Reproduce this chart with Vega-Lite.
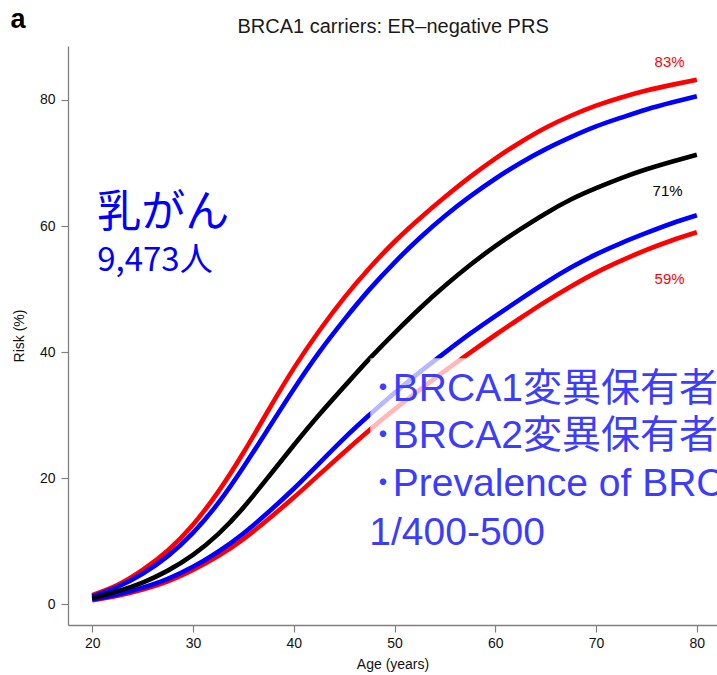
{
  "$schema": "https://vega.github.io/schema/vega-lite/v6.json",
  "width": 649,
  "height": 579,
  "autosize": {"type": "none"},
  "padding": {"left": 68, "top": 46, "right": 0, "bottom": 50},
  "background": "white",
  "config": {
    "view": {"stroke": null},
    "font": "Liberation Sans",
    "axis": {
      "domainColor": "#808080",
      "domainWidth": 1.3,
      "tickColor": "#808080",
      "tickWidth": 1.2,
      "tickSize": 7,
      "labelFontSize": 14,
      "labelColor": "#111111",
      "titleFontSize": 14,
      "titleFontWeight": "normal",
      "titleColor": "#111111",
      "grid": false
    }
  },
  "datasets": {
    "curves": [
      {"curve": "a_red_hi", "age": 20, "risk": 1.4},
      {"curve": "a_red_hi", "age": 22.5, "risk": 3.0},
      {"curve": "a_red_hi", "age": 25, "risk": 5.4},
      {"curve": "a_red_hi", "age": 27.5, "risk": 8.5},
      {"curve": "a_red_hi", "age": 30, "risk": 12.6},
      {"curve": "a_red_hi", "age": 32.5, "risk": 17.8},
      {"curve": "a_red_hi", "age": 35, "risk": 24.0},
      {"curve": "a_red_hi", "age": 37.5, "risk": 30.8},
      {"curve": "a_red_hi", "age": 40, "risk": 37.4},
      {"curve": "a_red_hi", "age": 42.5, "risk": 43.3},
      {"curve": "a_red_hi", "age": 45, "risk": 48.6},
      {"curve": "a_red_hi", "age": 47.5, "risk": 53.3},
      {"curve": "a_red_hi", "age": 50, "risk": 57.5},
      {"curve": "a_red_hi", "age": 52.5, "risk": 61.2},
      {"curve": "a_red_hi", "age": 55, "risk": 64.6},
      {"curve": "a_red_hi", "age": 57.5, "risk": 67.8},
      {"curve": "a_red_hi", "age": 60, "risk": 70.7},
      {"curve": "a_red_hi", "age": 62.5, "risk": 73.3},
      {"curve": "a_red_hi", "age": 65, "risk": 75.6},
      {"curve": "a_red_hi", "age": 67.5, "risk": 77.5},
      {"curve": "a_red_hi", "age": 70, "risk": 79.1},
      {"curve": "a_red_hi", "age": 72.5, "risk": 80.4},
      {"curve": "a_red_hi", "age": 75, "risk": 81.5},
      {"curve": "a_red_hi", "age": 77.5, "risk": 82.4},
      {"curve": "a_red_hi", "age": 80, "risk": 83.2},
      {"curve": "b_red_lo", "age": 20, "risk": 0.6},
      {"curve": "b_red_lo", "age": 22.5, "risk": 1.3},
      {"curve": "b_red_lo", "age": 25, "risk": 2.3},
      {"curve": "b_red_lo", "age": 27.5, "risk": 3.6},
      {"curve": "b_red_lo", "age": 30, "risk": 5.4},
      {"curve": "b_red_lo", "age": 32.5, "risk": 7.6},
      {"curve": "b_red_lo", "age": 35, "risk": 10.3},
      {"curve": "b_red_lo", "age": 37.5, "risk": 13.5},
      {"curve": "b_red_lo", "age": 40, "risk": 16.9},
      {"curve": "b_red_lo", "age": 42.5, "risk": 20.5},
      {"curve": "b_red_lo", "age": 45, "risk": 24.1},
      {"curve": "b_red_lo", "age": 47.5, "risk": 27.6},
      {"curve": "b_red_lo", "age": 50, "risk": 30.9},
      {"curve": "b_red_lo", "age": 52.5, "risk": 34.0},
      {"curve": "b_red_lo", "age": 55, "risk": 37.0},
      {"curve": "b_red_lo", "age": 57.5, "risk": 39.9},
      {"curve": "b_red_lo", "age": 60, "risk": 42.7},
      {"curve": "b_red_lo", "age": 62.5, "risk": 45.4},
      {"curve": "b_red_lo", "age": 65, "risk": 48.0},
      {"curve": "b_red_lo", "age": 67.5, "risk": 50.4},
      {"curve": "b_red_lo", "age": 70, "risk": 52.6},
      {"curve": "b_red_lo", "age": 72.5, "risk": 54.5},
      {"curve": "b_red_lo", "age": 75, "risk": 56.2},
      {"curve": "b_red_lo", "age": 77.5, "risk": 57.7},
      {"curve": "b_red_lo", "age": 80, "risk": 59.0},
      {"curve": "c_blue_hi", "age": 20, "risk": 1.2},
      {"curve": "c_blue_hi", "age": 22.5, "risk": 2.7},
      {"curve": "c_blue_hi", "age": 25, "risk": 4.8},
      {"curve": "c_blue_hi", "age": 27.5, "risk": 7.6},
      {"curve": "c_blue_hi", "age": 30, "risk": 11.3},
      {"curve": "c_blue_hi", "age": 32.5, "risk": 16.0},
      {"curve": "c_blue_hi", "age": 35, "risk": 21.7},
      {"curve": "c_blue_hi", "age": 37.5, "risk": 27.9},
      {"curve": "c_blue_hi", "age": 40, "risk": 34.1},
      {"curve": "c_blue_hi", "age": 42.5, "risk": 39.9},
      {"curve": "c_blue_hi", "age": 45, "risk": 45.1},
      {"curve": "c_blue_hi", "age": 47.5, "risk": 49.9},
      {"curve": "c_blue_hi", "age": 50, "risk": 54.2},
      {"curve": "c_blue_hi", "age": 52.5, "risk": 58.1},
      {"curve": "c_blue_hi", "age": 55, "risk": 61.6},
      {"curve": "c_blue_hi", "age": 57.5, "risk": 64.7},
      {"curve": "c_blue_hi", "age": 60, "risk": 67.5},
      {"curve": "c_blue_hi", "age": 62.5, "risk": 70.0},
      {"curve": "c_blue_hi", "age": 65, "risk": 72.2},
      {"curve": "c_blue_hi", "age": 67.5, "risk": 74.1},
      {"curve": "c_blue_hi", "age": 70, "risk": 75.8},
      {"curve": "c_blue_hi", "age": 72.5, "risk": 77.2},
      {"curve": "c_blue_hi", "age": 75, "risk": 78.5},
      {"curve": "c_blue_hi", "age": 77.5, "risk": 79.6},
      {"curve": "c_blue_hi", "age": 80, "risk": 80.6},
      {"curve": "d_blue_lo", "age": 20, "risk": 0.7},
      {"curve": "d_blue_lo", "age": 22.5, "risk": 1.5},
      {"curve": "d_blue_lo", "age": 25, "risk": 2.6},
      {"curve": "d_blue_lo", "age": 27.5, "risk": 4.0},
      {"curve": "d_blue_lo", "age": 30, "risk": 5.9},
      {"curve": "d_blue_lo", "age": 32.5, "risk": 8.3},
      {"curve": "d_blue_lo", "age": 35, "risk": 11.2},
      {"curve": "d_blue_lo", "age": 37.5, "risk": 14.6},
      {"curve": "d_blue_lo", "age": 40, "risk": 18.3},
      {"curve": "d_blue_lo", "age": 42.5, "risk": 22.3},
      {"curve": "d_blue_lo", "age": 45, "risk": 26.3},
      {"curve": "d_blue_lo", "age": 47.5, "risk": 30.0},
      {"curve": "d_blue_lo", "age": 50, "risk": 33.5},
      {"curve": "d_blue_lo", "age": 52.5, "risk": 36.8},
      {"curve": "d_blue_lo", "age": 55, "risk": 39.9},
      {"curve": "d_blue_lo", "age": 57.5, "risk": 42.9},
      {"curve": "d_blue_lo", "age": 60, "risk": 45.7},
      {"curve": "d_blue_lo", "age": 62.5, "risk": 48.4},
      {"curve": "d_blue_lo", "age": 65, "risk": 51.0},
      {"curve": "d_blue_lo", "age": 67.5, "risk": 53.4},
      {"curve": "d_blue_lo", "age": 70, "risk": 55.5},
      {"curve": "d_blue_lo", "age": 72.5, "risk": 57.3},
      {"curve": "d_blue_lo", "age": 75, "risk": 58.9},
      {"curve": "d_blue_lo", "age": 77.5, "risk": 60.4},
      {"curve": "d_blue_lo", "age": 80, "risk": 61.7},
      {"curve": "e_black", "age": 20, "risk": 0.9},
      {"curve": "e_black", "age": 22.5, "risk": 2.0},
      {"curve": "e_black", "age": 25, "risk": 3.4},
      {"curve": "e_black", "age": 27.5, "risk": 5.3},
      {"curve": "e_black", "age": 30, "risk": 7.8},
      {"curve": "e_black", "age": 32.5, "risk": 11.1},
      {"curve": "e_black", "age": 35, "risk": 15.3},
      {"curve": "e_black", "age": 37.5, "risk": 20.2},
      {"curve": "e_black", "age": 40, "risk": 25.2},
      {"curve": "e_black", "age": 42.5, "risk": 30.0},
      {"curve": "e_black", "age": 45, "risk": 34.5},
      {"curve": "e_black", "age": 47.5, "risk": 38.9},
      {"curve": "e_black", "age": 50, "risk": 43.0},
      {"curve": "e_black", "age": 52.5, "risk": 46.9},
      {"curve": "e_black", "age": 55, "risk": 50.5},
      {"curve": "e_black", "age": 57.5, "risk": 53.8},
      {"curve": "e_black", "age": 60, "risk": 56.8},
      {"curve": "e_black", "age": 62.5, "risk": 59.5},
      {"curve": "e_black", "age": 65, "risk": 62.0},
      {"curve": "e_black", "age": 67.5, "risk": 64.2},
      {"curve": "e_black", "age": 70, "risk": 66.0},
      {"curve": "e_black", "age": 72.5, "risk": 67.6},
      {"curve": "e_black", "age": 75, "risk": 69.0},
      {"curve": "e_black", "age": 77.5, "risk": 70.2},
      {"curve": "e_black", "age": 80, "risk": 71.3}
    ],
    "pct": [
      {"curve": "a_red_hi", "label": "83%", "age": 77.3, "risk": 86.0},
      {"curve": "e_black", "label": "71%", "age": 77.1, "risk": 65.6},
      {"curve": "b_red_lo", "label": "59%", "age": 77.3, "risk": 51.6}
    ],
    "box": [
      {"age": 47.6, "age2": 82, "risk": 7.0, "risk2": 39.0}
    ],
    "boxtext": [
      {"label": "･BRCA1変異保有者", "age": 47.9, "risk": 32.2},
      {"label": "･BRCA2変異保有者", "age": 47.9, "risk": 24.8},
      {"label": "･Prevalence of BRCA", "age": 47.9, "risk": 17.1},
      {"label": "1/400-500", "age": 47.5, "risk": 9.4}
    ],
    "big": [{"label": "乳がん", "age": 20.5, "risk": 59.8}],
    "count": [{"label": "9,473人", "age": 20.5, "risk": 52.9}],
    "panel": [{"label": "a", "age": 11.9, "risk": 91.4}],
    "heading": [{"label": "BRCA1 carriers: ER–negative PRS", "age": 49.86, "risk": 90.6}]
  },
  "encoding": {
    "x": {
      "field": "age", "type": "quantitative",
      "scale": {"domain": [17.6, 82], "nice": false, "zero": false},
      "axis": {"values": [20, 30, 40, 50, 60, 70, 80], "title": "Age (years)", "labelPadding": 4, "titlePadding": 7}
    },
    "y": {
      "field": "risk", "type": "quantitative",
      "scale": {"domain": [-3.33, 88.57], "nice": false, "zero": false},
      "axis": {"values": [0, 20, 40, 60, 80], "title": "Risk (%)", "labelPadding": 6, "titlePadding": 13}
    }
  },
  "layer": [
    {
      "data": {"name": "curves"},
      "mark": {"type": "line", "strokeWidth": 4.6, "interpolate": "natural", "strokeCap": "butt"},
      "encoding": {
        "color": {
          "field": "curve", "type": "nominal",
          "scale": {"domain": ["a_red_hi", "b_red_lo", "c_blue_hi", "d_blue_lo", "e_black"], "range": ["#ff0000", "#ff0000", "#0000ff", "#0000ff", "#000000"]},
          "legend": null
        }
      }
    },
    {
      "data": {"name": "box"},
      "mark": {"type": "rect", "fill": "white", "opacity": 0.72},
      "encoding": {
        "x2": {"field": "age2"},
        "y2": {"field": "risk2"}
      }
    },
    {
      "data": {"name": "pct"},
      "mark": {"type": "text", "fontSize": 15, "align": "center", "baseline": "middle", "font": "Liberation Sans"},
      "encoding": {
        "text": {"field": "label"},
        "color": {"field": "curve", "type": "nominal", "legend": null}
      }
    },
    {
      "data": {"name": "boxtext"},
      "mark": {"type": "text", "fontSize": 39, "align": "left", "baseline": "alphabetic", "font": "Liberation Sans, Noto Sans CJK JP", "color": "#3c3cff"},
      "encoding": {
        "text": {"field": "label"}
      }
    },
    {
      "data": {"name": "big"},
      "mark": {"type": "text", "fontSize": 44, "align": "left", "baseline": "alphabetic", "font": "Noto Sans CJK JP", "color": "#0000ff"},
      "encoding": {
        "text": {"field": "label"}
      }
    },
    {
      "data": {"name": "count"},
      "mark": {"type": "text", "fontSize": 33, "align": "left", "baseline": "alphabetic", "font": "Noto Sans CJK JP", "color": "#0000ff"},
      "encoding": {
        "text": {"field": "label"}
      }
    },
    {
      "data": {"name": "panel"},
      "mark": {"type": "text", "fontSize": 27, "fontWeight": "bold", "align": "left", "baseline": "alphabetic", "font": "Liberation Sans", "color": "#000000"},
      "encoding": {
        "text": {"field": "label"}
      }
    },
    {
      "data": {"name": "heading"},
      "mark": {"type": "text", "fontSize": 20, "align": "center", "baseline": "alphabetic", "font": "Liberation Sans", "color": "#1a1a1a"},
      "encoding": {
        "text": {"field": "label"}
      }
    },
    {
      "mark": {"type": "rule", "color": "#808080", "strokeWidth": 1.3},
      "encoding": {"y": {"datum": 88.57}, "x": null}
    }
  ]
}
